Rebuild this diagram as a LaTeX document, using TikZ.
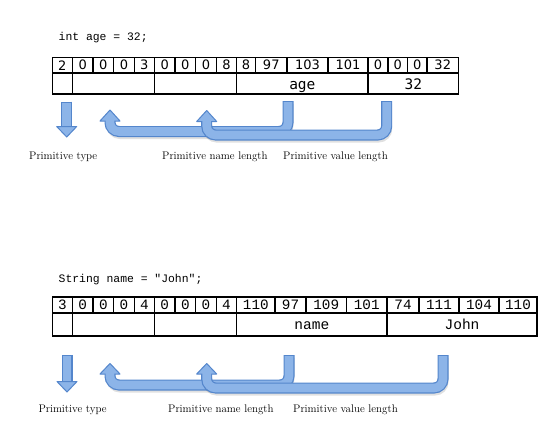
\documentclass[tikz,border=0pt]{standalone}
\usepackage{fontspec}
\newfontfamily\numfont{DejaVu Sans}
\newfontfamily\agefont{DejaVu Sans Mono}
\newfontfamily\codefont{Liberation Mono}
\definecolor{arrowedge}{RGB}{84,134,204}
\definecolor{arrowfill}{RGB}{140,180,232}
\tikzset{
  cellbox/.style={draw, line width=1.1pt, inner sep=0pt, anchor=center},
  tabA/.style={font=\numfont\fontsize{13}{15}\selectfont},
  tabAb/.style={font=\agefont\fontsize{14.5}{16}\selectfont, text height=12.5pt, text depth=0pt},
  tabB/.style={font=\codefont\fontsize{14.3}{16}\selectfont},
  tabBb/.style={font=\codefont\fontsize{14.5}{16}\selectfont, text height=10.5pt, text depth=0pt},
  codetext/.style={font=\codefont\fontsize{11.4}{13}\selectfont, anchor=west, inner sep=0pt},
  lbl/.style={font=\fontsize{11}{13}\selectfont, anchor=west, inner sep=0pt},
  shaftedge/.style={draw=arrowedge, line width=11pt},
  shaftfill/.style={draw=arrowfill, line width=8.6pt},
  headbox/.style={fill=arrowfill, draw=arrowedge, line width=1pt, line join=round},
  shadowline/.style={draw=black, line width=9pt, opacity=0.12},
}
\begin{document}
\begin{tikzpicture}[x=1pt, y=-1pt]
\useasboundingbox[fill=white] (0,0) rectangle (546,437);

% ---------- int age = 32;
\node[codetext] (code1) at (58.5,38) {int age = 32;};

\foreach \a/\b/\t [count=\i] in {52.3/72.3/2, 72.3/93/0, 93/113.7/0, 113.7/134.3/0, 134.3/154.3/3, 154.3/175/0, 175/195.7/0, 195.7/216.3/0, 216.3/236.7/8, 236.7/255.5/8, 255.5/287/97, 287/328/103, 328/368/101, 368/388/0, 388/407.5/0, 407.5/427/0, 427/458.5/32}{
  \pgfmathsetmacro\w{\b-\a}
  \pgfmathsetmacro\m{(\a+\b)/2}
  \node[cellbox, tabA, minimum width=\w pt, minimum height=15.5pt] (ta\i) at (\m,65.25) {\t};
}
\foreach \a/\b/\t [count=\i] in {52.3/72.3/{}, 72.3/154.3/{}, 154.3/236.7/{}, 236.7/368/age, 368/458.5/32}{
  \pgfmathsetmacro\w{\b-\a}
  \pgfmathsetmacro\m{(\a+\b)/2}
  \node[cellbox, tabAb, minimum width=\w pt, minimum height=21pt] (tb\i) at (\m,83.5) {\t};
}

% ---------- String name = "John";
\node[codetext] (code2) at (58.5,280) {String name = "John";};

\foreach \a/\b/\t [count=\i] in {52.3/72.3/3, 72.3/93/0, 93/113.7/0, 113.7/134.3/0, 134.3/154.3/4, 154.3/175/0, 175/195.7/0, 195.7/216.3/0, 216.3/236.7/4, 236.7/275/110, 275/306/97, 306/346.5/109, 346.5/387/101, 387/419/74, 419/459/111, 459/499/104, 499/537/110}{
  \pgfmathsetmacro\w{\b-\a}
  \pgfmathsetmacro\m{(\a+\b)/2}
  \node[cellbox, tabB, minimum width=\w pt, minimum height=16pt] (tc\i) at (\m,305) {\t};
}
\foreach \a/\b/\t [count=\i] in {52.3/72.3/{}, 72.3/154.3/{}, 154.3/236.7/{}, 236.7/387/name, 387/537/John}{
  \pgfmathsetmacro\w{\b-\a}
  \pgfmathsetmacro\m{(\a+\b)/2}
  \node[cellbox, tabBb, minimum width=\w pt, minimum height=23pt] (td\i) at (\m,324.5) {\t};
}

% ---------- labels
\node[lbl] (l1) at (29,157) {Primitive type};
\node[lbl] (l2) at (162,157) {Primitive name length};
\node[lbl] (l3) at (283,157) {Primitive value length};
\node[lbl] (l4) at (38.3,410) {Primitive type};
\node[lbl] (l5) at (168,410) {Primitive name length};
\node[lbl] (l6) at (293,410) {Primitive value length};

% ---------- arrows (top)
\coordinate (d1s) at (66.7,101.5);
\coordinate (d1b) at (66.7,126.5);
\coordinate (d1t) at (66.7,137);
\draw[shaftedge] (d1s) -- (d1b);
\filldraw[headbox] ([xshift=-10pt]d1b) -- (d1t) -- ([xshift=10pt]d1b) -- cycle;
\draw[shaftfill] ([yshift=-1pt]d1s) -- ([yshift=1pt]d1b);

\coordinate (a1s) at (288,101);
\coordinate (a1m) at (110,131.5);
\coordinate (a1b) at (110,121);
\coordinate (a1t) at (110,110);
\draw[shadowline, rounded corners=9] ([shift={(1pt,-3pt)}]a1s) |- ([shift={(1pt,-3pt)}]a1m) -- ([shift={(1pt,-3pt)}]a1b);
\draw[shaftedge, rounded corners=9] (a1s) |- (a1m) -- (a1b);
\filldraw[headbox] ([xshift=-10pt]a1b) -- (a1t) -- ([xshift=10pt]a1b) -- cycle;
\draw[shaftfill, rounded corners=9] ([yshift=-1pt]a1s) |- (a1m) -- ([yshift=1pt]a1b);

\coordinate (a2s) at (386.7,101);
\coordinate (a2m) at (206.7,135);
\coordinate (a2b) at (206.7,121.5);
\coordinate (a2t) at (206.7,110.5);
\draw[shadowline, rounded corners=9] ([shift={(1pt,-3pt)}]a2s) |- ([shift={(1pt,-3pt)}]a2m) -- ([shift={(1pt,-3pt)}]a2b);
\draw[shaftedge, rounded corners=9] (a2s) |- (a2m) -- (a2b);
\filldraw[headbox] ([xshift=-10pt]a2b) -- (a2t) -- ([xshift=10pt]a2b) -- cycle;
\draw[shaftfill, rounded corners=9] ([yshift=-1pt]a2s) |- (a2m) -- ([yshift=1pt]a2b);

% ---------- arrows (bottom)
\coordinate (d2s) at (67,355);
\coordinate (d2b) at (67,381.5);
\coordinate (d2t) at (67,392);
\draw[shaftedge] (d2s) -- (d2b);
\filldraw[headbox] ([xshift=-10pt]d2b) -- (d2t) -- ([xshift=10pt]d2b) -- cycle;
\draw[shaftfill] ([yshift=-1pt]d2s) -- ([yshift=1pt]d2b);

\coordinate (b1s) at (289,355);
\coordinate (b1m) at (110,385);
\coordinate (b1b) at (110,374);
\coordinate (b1t) at (110,363.5);
\draw[shadowline, rounded corners=9] ([shift={(1pt,-3pt)}]b1s) |- ([shift={(1pt,-3pt)}]b1m) -- ([shift={(1pt,-3pt)}]b1b);
\draw[shaftedge, rounded corners=9] (b1s) |- (b1m) -- (b1b);
\filldraw[headbox] ([xshift=-10pt]b1b) -- (b1t) -- ([xshift=10pt]b1b) -- cycle;
\draw[shaftfill, rounded corners=9] ([yshift=-1pt]b1s) |- (b1m) -- ([yshift=1pt]b1b);

\coordinate (b2s) at (443,355);
\coordinate (b2m) at (206.7,388);
\coordinate (b2b) at (206.7,374);
\coordinate (b2t) at (206.7,363.5);
\draw[shadowline, rounded corners=9] ([shift={(1pt,-3pt)}]b2s) |- ([shift={(1pt,-3pt)}]b2m) -- ([shift={(1pt,-3pt)}]b2b);
\draw[shaftedge, rounded corners=9] (b2s) |- (b2m) -- (b2b);
\filldraw[headbox] ([xshift=-10pt]b2b) -- (b2t) -- ([xshift=10pt]b2b) -- cycle;
\draw[shaftfill, rounded corners=9] ([yshift=-1pt]b2s) |- (b2m) -- ([yshift=1pt]b2b);
\end{tikzpicture}
\end{document}
